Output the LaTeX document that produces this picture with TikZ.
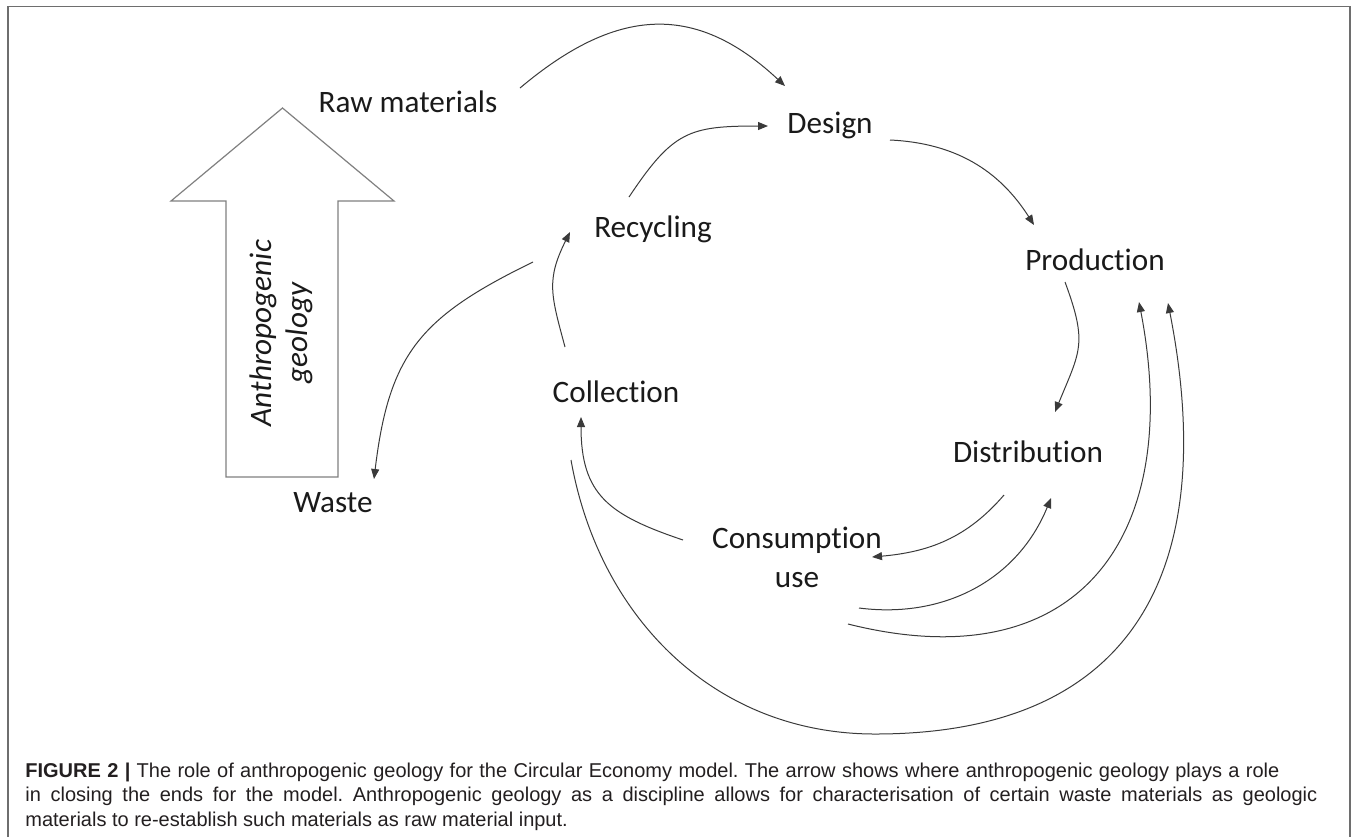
\documentclass[tikz,border=0pt]{standalone}
\usepackage{fontspec}
\setmainfont{Carlito}[Ligatures=NoCommon]
\newfontfamily\capfont{Liberation Sans}
\usetikzlibrary{arrows.meta}
\definecolor{ceInk}{HTML}{1A1A1A}
\definecolor{ceLine}{HTML}{3A3A3A}
\definecolor{ceFrame}{HTML}{6E6E6E}
\definecolor{ceShape}{HTML}{808080}
\definecolor{ceCaption}{HTML}{231F20}
\tikzset{
  ce label/.style={font=\fontsize{15.6}{19.5}\selectfont, text=ceInk, inner sep=0pt, anchor=base},
  ce flow/.style={draw=ceLine, line width=0.5pt, -{Triangle[length=5pt,width=4pt]}},
  ce frame/.style={draw=ceFrame, line width=0.8pt},
  ce big arrow/.style={draw=ceShape, fill=white, line width=0.6pt},
  ce caption/.style={font=\capfont\fontsize{10}{12.25}\selectfont, text=ceCaption, inner sep=0pt, anchor=base west},
}
\frenchspacing

\begin{document}
\begin{tikzpicture}[x=0.5pt,y=-0.5pt]
  \useasboundingbox (0,0) rectangle (1354,837);
  \draw[ce frame] (8,837) |- (1350,6.5) -- (1350,837);

  % hollow arrow on the left
  \draw[ce big arrow] (226,477) -- (226,201) -- (171,201) -- (282.5,108)
    -- (394,201) -- (338,201) -- (338,477) -- cycle;
  \node[font=\itshape\fontsize{15.6}{18}\selectfont, text=ceInk, rotate=90,
    align=center, inner sep=0pt] (geo) at (281,333) {Anthropogenic\\geology};

  % stages
  \node[ce label] (raw) at (408,112) {Raw materials};
  \node[ce label] (design) at (830,133) {Design};
  \node[ce label] (recyc) at (653,237) {Recycling};
  \node[ce label] (prod) at (1095,270) {Production};
  \node[ce label] (collect) at (616,402) {Collection};
  \node[ce label] (distrib) at (1028,462) {Distribution};
  \node[ce label, align=center] (consum) at (797,587) {Consumption\\use};
  \node[ce label] (waste) at (333,512) {Waste};
  \coordinate (loopbottom) at (875,734);

  % cycle arcs
  \draw[ce flow] ([shift={(112,-24)}]raw.base) .. controls +(95,-80) and +(-91,-85) .. ([shift={(-45,-47)}]design.base);
  \draw[ce flow] ([shift={(-24,-40)}]recyc.base) .. controls +(44,-66) and +(-79,0) .. ([shift={(-62,-7)}]design.base);
  \draw[ce flow] ([shift={(60,7)}]design.base) .. controls +(65,3) and +(-35,-55) .. ([shift={(-61,-45)}]prod.base);
  \draw[ce flow] ([shift={(-30,12)}]prod.base) .. controls +(23,62) and +(25,-61) .. ([shift={(27,-50)}]distrib.base);
  \draw[ce flow] ([shift={(-24,33)}]distrib.base) .. controls +(-37,43) and +(57,-5) .. ([shift={(75,-30)}]consum.base);
  \draw[ce flow] ([shift={(62,21)}]consum.base) .. controls +(86,11) and +(-33,81) .. ([shift={(23,36)}]distrib.base);
  \draw[ce flow] ([shift={(51,37)}]consum.base) .. controls +(231,58) and +(45,234) .. ([shift={(44,32)}]prod.base);
  \draw[ce flow] ([shift={(-45,58)}]collect.base) .. controls +(28,158) and +(-160,0) .. (loopbottom)
    .. controls +(265,0) and +(51,260) .. ([shift={(73,33)}]prod.base);
  \draw[ce flow] ([shift={(-114,-47)}]consum.base) .. controls +(-74,-25) and +(0,78) .. ([shift={(-35,15)}]collect.base);
  \draw[ce flow] ([shift={(-51,-55)}]collect.base) .. controls +(-14,-52) and +(-24,48) .. ([shift={(-83,-5)}]recyc.base);
  \draw[ce flow] ([shift={(-120,25)}]recyc.base) .. controls +(-113,55) and +(15,-125) .. ([shift={(41,-33)}]waste.base);

  % caption
  \node[ce caption] (cap1) at (25,777) {\makebox[627pt][s]{\textbf{FIGURE 2 |} The role of anthropogenic geology for the Circular Economy model. The arrow shows where anthropogenic geology plays a role}};
  \node[ce caption] (cap2) at (25,801.5) {\makebox[646pt][s]{in closing the ends for the model. Anthropogenic geology as a discipline allows for characterisation of certain waste materials as geologic}};
  \node[ce caption] (cap3) at (25,826) {materials to re-establish such materials as raw material input.};
\end{tikzpicture}
\end{document}
